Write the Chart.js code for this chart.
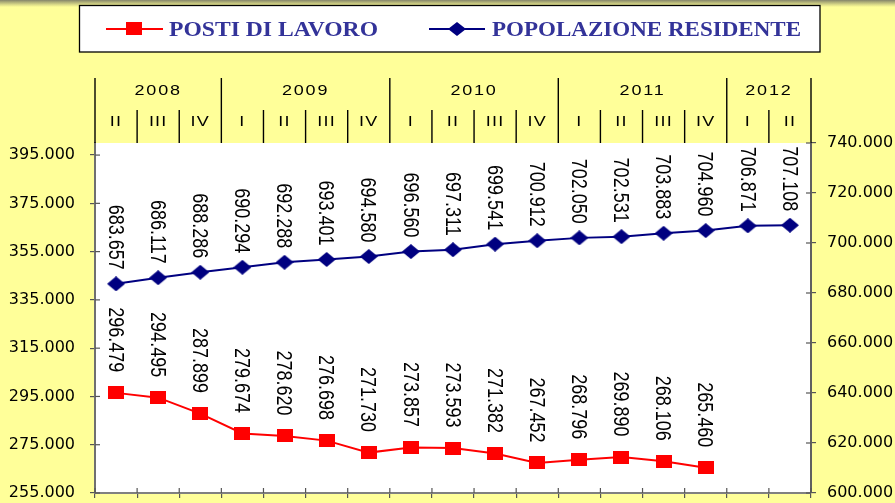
<!DOCTYPE html>
<html><head><meta charset="utf-8">
<script src="https://cdn.jsdelivr.net/npm/chart.js@4/dist/chart.umd.min.js"></script>
<style>
html,body{margin:0;padding:0;background:#FFFF99;overflow:hidden;}
#wrap{position:relative;width:895px;height:503px;}
canvas{display:block;}
</style></head><body>
<div id="wrap"><canvas id="c" width="895" height="503"></canvas></div>
<script>
// ---- data ----
const seriesNames = ['POSTI DI LAVORO', 'POPOLAZIONE RESIDENTE'];
const years = ['2008','2008','2008','2009','2009','2009','2009','2010','2010','2010','2010','2011','2011','2011','2011','2012','2012'];
const quarters = ['II','III','IV','I','II','III','IV','I','II','III','IV','I','II','III','IV','I','II'];
const postiDiLavoro = [296479,294495,287899,279674,278620,276698,271730,273857,273593,271382,267452,268796,269890,268106,265460,null,null];
const popolazioneResidente = [683657,686117,688286,690294,692288,693401,694580,696560,697311,699541,700912,702050,702531,703883,704960,706871,707108];
const leftTicks = [255000,275000,295000,315000,335000,355000,375000,395000];
const rightTicks = [600000,620000,640000,660000,680000,700000,720000,740000];

const RED = '#FF0000', NAVY = '#000080', LEGEND_TXT = '#333399';
function fmt(v){ return String(v).replace(/\B(?=(\d{3})+(?!\d))/g, '.'); }

function makeSquare(w, h, color){
  const c = document.createElement('canvas'); c.width = w; c.height = h;
  const g = c.getContext('2d'); g.fillStyle = color; g.fillRect(0,0,w,h); return c;
}
function makeDiamond(w, h, color){
  const c = document.createElement('canvas'); c.width = w; c.height = h;
  const g = c.getContext('2d'); g.fillStyle = color; g.beginPath();
  g.moveTo(w/2,0); g.lineTo(w,h/2); g.lineTo(w/2,h); g.lineTo(0,h/2); g.closePath(); g.fill(); return c;
}
const squareImg = makeSquare(16, 13, RED);
const diamondImg = makeDiamond(18, 15, NAVY);
const legendDiamond = makeDiamond(18, 14, NAVY);

const labels = years.map((y,i) => y + ' ' + quarters[i]);

function drawFit(ctx, text, x, y, width, font, color){
  ctx.save(); ctx.font = font;
  const m = ctx.measureText(text).width;
  ctx.translate(x, y); ctx.scale(width / m, 1);
  ctx.fillStyle = color; ctx.textAlign = 'left'; ctx.textBaseline = 'alphabetic';
  ctx.fillText(text, 0, 0); ctx.restore();
}
function drawStretchCenter(ctx, text, cx, cy, font, sx, spacing){
  ctx.save(); ctx.font = font;
  if (spacing) ctx.letterSpacing = spacing;
  const m = ctx.measureText(text).width;
  ctx.translate(cx, cy); ctx.scale(sx, 1);
  ctx.fillStyle = '#000'; ctx.textAlign = 'left'; ctx.textBaseline = 'middle';
  ctx.fillText(text, -m/2, 0); ctx.restore();
}

const decor = {
  id: 'decor',
  beforeDraw(chart){
    const ctx = chart.ctx, a = chart.chartArea;
    ctx.save();
    ctx.fillStyle = '#FFFFFF';
    ctx.fillRect(a.left, a.top, a.right - a.left, a.bottom - a.top);
    const g = ctx.createLinearGradient(0,0,0,7);
    g.addColorStop(0,'rgba(90,90,90,0.75)'); g.addColorStop(1,'rgba(120,120,90,0)');
    ctx.fillStyle = g; ctx.fillRect(0,0,chart.width,7);
    ctx.restore();
  },
  afterDraw(chart){
    const ctx = chart.ctx, a = chart.chartArea, xs = chart.scales.x;
    ctx.save();
    // legend box
    ctx.fillStyle = '#FFFFFF'; ctx.fillRect(79, 5, 741, 47);
    ctx.strokeStyle = '#000'; ctx.lineWidth = 1.3; ctx.strokeRect(79.5, 5.5, 740.5, 46.5);
    ctx.strokeStyle = RED; ctx.lineWidth = 2;
    ctx.beginPath(); ctx.moveTo(106, 29); ctx.lineTo(163, 29); ctx.stroke();
    ctx.drawImage(squareImg, 134 - 8, 28.5 - 6.5);
    drawFit(ctx, seriesNames[0], 169, 36, 209, 'bold 20px "Liberation Serif", "Times New Roman", serif', LEGEND_TXT);
    ctx.strokeStyle = NAVY; ctx.lineWidth = 2;
    ctx.beginPath(); ctx.moveTo(429, 29); ctx.lineTo(485, 29); ctx.stroke();
    ctx.drawImage(legendDiamond, 457 - 9, 29 - 7);
    drawFit(ctx, seriesNames[1], 492, 36, 309, 'bold 20px "Liberation Serif", "Times New Roman", serif', LEGEND_TXT);

    // header table
    const n = labels.length;
    const w = xs.getPixelForValue(1) - xs.getPixelForValue(0);
    const bnd = [];
    for (let i = 0; i <= n; i++) bnd.push(i < n ? xs.getPixelForValue(i) - w/2 : xs.getPixelForValue(n-1) + w/2);
    ctx.strokeStyle = '#000'; ctx.lineWidth = 1.4;
    let groupStart = 0;
    for (let i = 0; i <= n; i++){
      const isYear = (i === 0 || i === n || years[i] !== years[i-1]);
      ctx.beginPath();
      ctx.moveTo(bnd[i], isYear ? 78 : 110);
      ctx.lineTo(bnd[i], a.top);
      ctx.stroke();
      if (i > 0 && isYear){
        drawStretchCenter(ctx, years[i-1], (bnd[groupStart] + bnd[i]) / 2, 91, '15px "Liberation Sans", Arial, sans-serif', 1.2, '1.5px');
        groupStart = i;
      }
      if (i < n){
        drawStretchCenter(ctx, quarters[i], (bnd[i] + bnd[i+1]) / 2, 122, '15px "Liberation Sans", Arial, sans-serif', 1.2, '1px');
      }
    }
    // inner parts of tick marks
    ctx.strokeStyle = '#555'; ctx.lineWidth = 1.2;
    for (let i = 0; i <= n; i++){
      ctx.beginPath(); ctx.moveTo(bnd[i], a.bottom); ctx.lineTo(bnd[i], a.bottom - 5); ctx.stroke();
    }
    const yl = chart.scales.y, yr = chart.scales.y1;
    leftTicks.forEach(v => { const p = yl.getPixelForValue(v); ctx.beginPath(); ctx.moveTo(a.left, p); ctx.lineTo(a.left + 5, p); ctx.stroke(); });
    rightTicks.forEach(v => { const p = yr.getPixelForValue(v); ctx.beginPath(); ctx.moveTo(a.right, p); ctx.lineTo(a.right - 5, p); ctx.stroke(); });
    ctx.restore();
  },
  afterDatasetsDraw(chart){
    const ctx = chart.ctx;
    const gaps = [20.5, 14];
    chart.data.datasets.forEach((ds, di) => {
      const meta = chart.getDatasetMeta(di);
      meta.data.forEach((pt, i) => {
        const v = ds.data[i];
        if (v === null || v === undefined) return;
        ctx.save();
        ctx.translate(pt.x, pt.y - gaps[di]);
        ctx.scale(1.22, 1);
        ctx.rotate(Math.PI / 2);
        ctx.font = '18px "Liberation Sans", Arial, sans-serif';
        ctx.fillStyle = '#000';
        ctx.textAlign = 'right'; ctx.textBaseline = 'middle';
        ctx.fillText(fmt(v), 0, 1);
        ctx.restore();
      });
    });
  }
};

const noVPad = s => { s.paddingTop = 0; s.paddingBottom = 0; };
const pad = { top: 143, left: 9, right: 2, bottom: 5 };
const chart = new Chart(document.getElementById('c'), {
  type: 'line',
  data: {
    labels: labels,
    datasets: [
      { label: seriesNames[0], data: postiDiLavoro, yAxisID: 'y',
        borderColor: RED, backgroundColor: RED, borderWidth: 2,
        pointStyle: squareImg, pointRadius: 8, tension: 0, spanGaps: false },
      { label: seriesNames[1], data: popolazioneResidente, yAxisID: 'y1',
        borderColor: NAVY, backgroundColor: NAVY, borderWidth: 2,
        pointStyle: diamondImg, pointRadius: 8, tension: 0 }
    ]
  },
  options: {
    responsive: false, animation: false,
    layout: { padding: pad },
    plugins: { legend: { display: false }, tooltip: { enabled: false } },
    scales: {
      x: { type: 'category', offset: true,
        grid: { offset: true, drawOnChartArea: false, tickLength: 5, color: '#555', lineWidth: 1.2 },
        border: { color: '#808080', width: 2 },
        ticks: { display: false } },
      y: { position: 'left', min: 255000, max: 400000,
        afterBuildTicks: s => { s.ticks = leftTicks.map(v => ({ value: v })); },
        afterFit: noVPad,
        grid: { drawOnChartArea: false, tickLength: 5, color: '#555', lineWidth: 1.2 },
        border: { color: '#707070', width: 2 },
        ticks: { color: '#000', padding: 15, font: { family: '"DejaVu Sans", sans-serif', size: 16 }, callback: v => fmt(v) } },
      y1: { position: 'right', min: 600000, max: 740000,
        afterBuildTicks: s => { s.ticks = rightTicks.map(v => ({ value: v })); },
        afterFit: noVPad,
        grid: { drawOnChartArea: false, tickLength: 5, color: '#555', lineWidth: 1.2 },
        border: { color: '#606060', width: 2 },
        ticks: { color: '#000', padding: 11, font: { family: '"DejaVu Sans", sans-serif', size: 16 }, callback: v => fmt(v) } }
    }
  },
  plugins: [decor]
});

// fit the plot area to the reference frame
const target = { left: 95, right: 811, top: 143, bottom: 493 };
for (let k = 0; k < 4; k++){
  const a = chart.chartArea;
  const dl = target.left - a.left, dr = a.right - target.right, dt = target.top - a.top, db = a.bottom - target.bottom;
  if (Math.abs(dl) < 0.5 && Math.abs(dr) < 0.5 && Math.abs(dt) < 0.5 && Math.abs(db) < 0.5) break;
  pad.left += dl; pad.right += dr; pad.top += dt; pad.bottom += db;
  chart.options.layout.padding = Object.assign({}, pad);
  chart.update();
}
</script>
</body></html>
